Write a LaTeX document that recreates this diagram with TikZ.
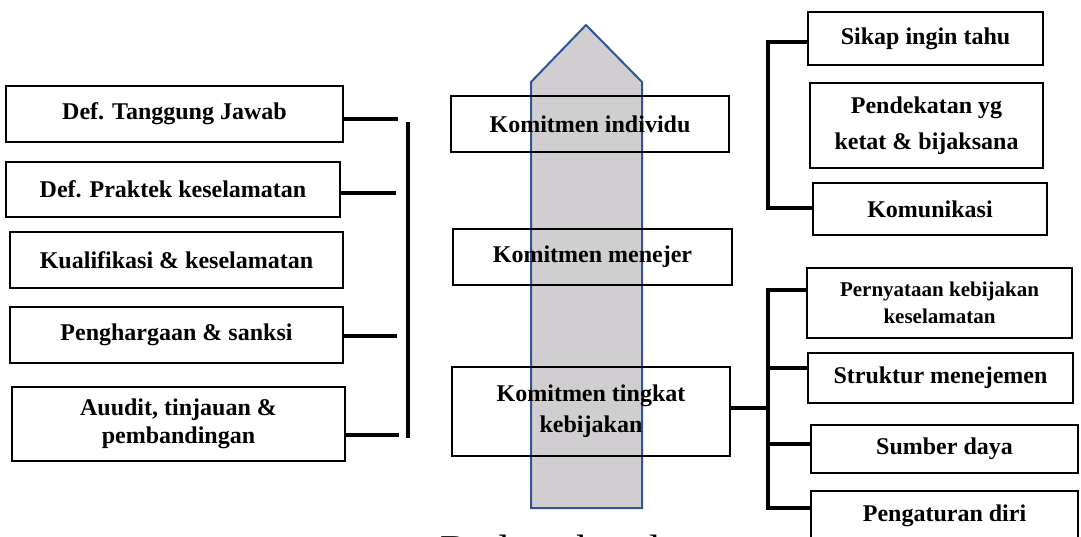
\documentclass[tikz,border=0pt]{standalone}
\usepackage{fontspec}
\setmainfont{Liberation Serif}
\definecolor{arrowfill}{RGB}{208,206,208}
\definecolor{arrowline}{RGB}{47,85,151}
\begin{document}
\begin{tikzpicture}[x=1pt,y=-1pt,
  box/.style={draw=black, line width=2.5pt, align=center, inner sep=0pt,
    font=\bfseries\fontsize{24}{28}\selectfont},
  conn/.style={draw=black, line width=4pt},
  bigarrow/.style={draw=arrowline, fill=arrowfill, line width=2pt, line join=miter}]
\useasboundingbox (0,0) rectangle (1081,536);
\clip (0,0) rectangle (1081,536);
% big arrow
\draw[bigarrow] (531,82) -- (586,25) -- (642,82) -- (642,508) -- (531,508) -- cycle;
% left boxes
\node[box, minimum width=337pt, minimum height=56pt] (t1) at (174.5,114) {Def. Tanggung Jawab};
\node[box, minimum width=334pt, minimum height=55pt] (t2) at (173,189.5) {Def. Praktek keselamatan};
\node[box, minimum width=333pt, minimum height=56pt] (t3) at (176.5,260) {Kualifikasi \& keselamatan};
\node[box, minimum width=333pt, minimum height=56pt] (t4) at (176.5,335) {Penghargaan \& sanksi};
\node[box, minimum width=333pt, minimum height=74pt, font=\bfseries\fontsize{24}{28}\selectfont] (t5) at (178.5,424) {Auudit, tinjauan \&\\pembandingan};
% middle boxes
\node[box, minimum width=278pt, minimum height=56pt] (m1) at (590,124) {Komitmen individu};
\node[box, minimum width=279pt, minimum height=56pt] (m2) at (592.5,257) {Komitmen menejer};
\node[box, minimum width=278pt, minimum height=89pt, font=\bfseries\fontsize{24}{31}\selectfont] (m3) at (591,411.5) {Komitmen tingkat\\kebijakan};
% right top boxes
\node[box, minimum width=235pt, minimum height=53pt] (r1) at (925.5,38.5) {Sikap ingin tahu};
\node[box, minimum width=233pt, minimum height=85pt, font=\bfseries\fontsize{24}{36}\selectfont] (r2) at (926.5,125.5) {Pendekatan yg\\ketat \& bijaksana};
\node[box, minimum width=234pt, minimum height=52pt] (r3) at (930,209) {Komunikasi};
% right bottom boxes
\node[box, minimum width=265pt, minimum height=70pt, font=\bfseries\fontsize{21}{27}\selectfont] (b1) at (939.5,303) {Pernyataan kebijakan\\keselamatan};
\node[box, minimum width=265pt, minimum height=50pt] (b2) at (940.5,378) {Struktur menejemen};
\node[box, minimum width=267pt, minimum height=48pt] (b3) at (944.5,449) {Sumber daya};
\node[box, minimum width=267pt, minimum height=50pt] (b4) at (944.5,516) {Pengaturan diri};
% bottom caption (cut by the page edge, as in the reference)
\node[anchor=base, inner sep=0pt, font=\fontsize{41}{48}\selectfont] (cap) at (610,563) {Budaya keselamatan};
% left connectors
\coordinate (e1) at (398,119);
\coordinate (e2) at (396,193);
\coordinate (e4) at (397,336);
\coordinate (e5) at (399,435);
\coordinate (lt) at (408,122);
\coordinate (lb) at (408,438);
\draw[conn] (t1.east |- e1) -- (e1);
\draw[conn] (t2.east |- e2) -- (e2);
\draw[conn] (t4.east |- e4) -- (e4);
\draw[conn] (t5.east |- e5) -- (e5);
\draw[conn] (lt) -- (lb);
% right top bracket
\coordinate (rtt) at (768,42);
\coordinate (rtb) at (768,208);
\draw[conn] (r1.west |- rtt) -- (rtt) -- (rtb) -- (r3.west |- rtb);
% right bottom bracket
\coordinate (rbt) at (768,290);
\coordinate (j2) at (768,368);
\coordinate (jm) at (768,408);
\coordinate (j3) at (768,444);
\coordinate (rbb) at (768,508);
\draw[conn] (b1.west |- rbt) -- (rbt) -- (rbb) -- (b4.west |- rbb);
\draw[conn] (j2) -- (b2.west |- j2);
\draw[conn] (j3) -- (b3.west |- j3);
\draw[conn] (m3.east |- jm) -- (jm);
\end{tikzpicture}
\end{document}
